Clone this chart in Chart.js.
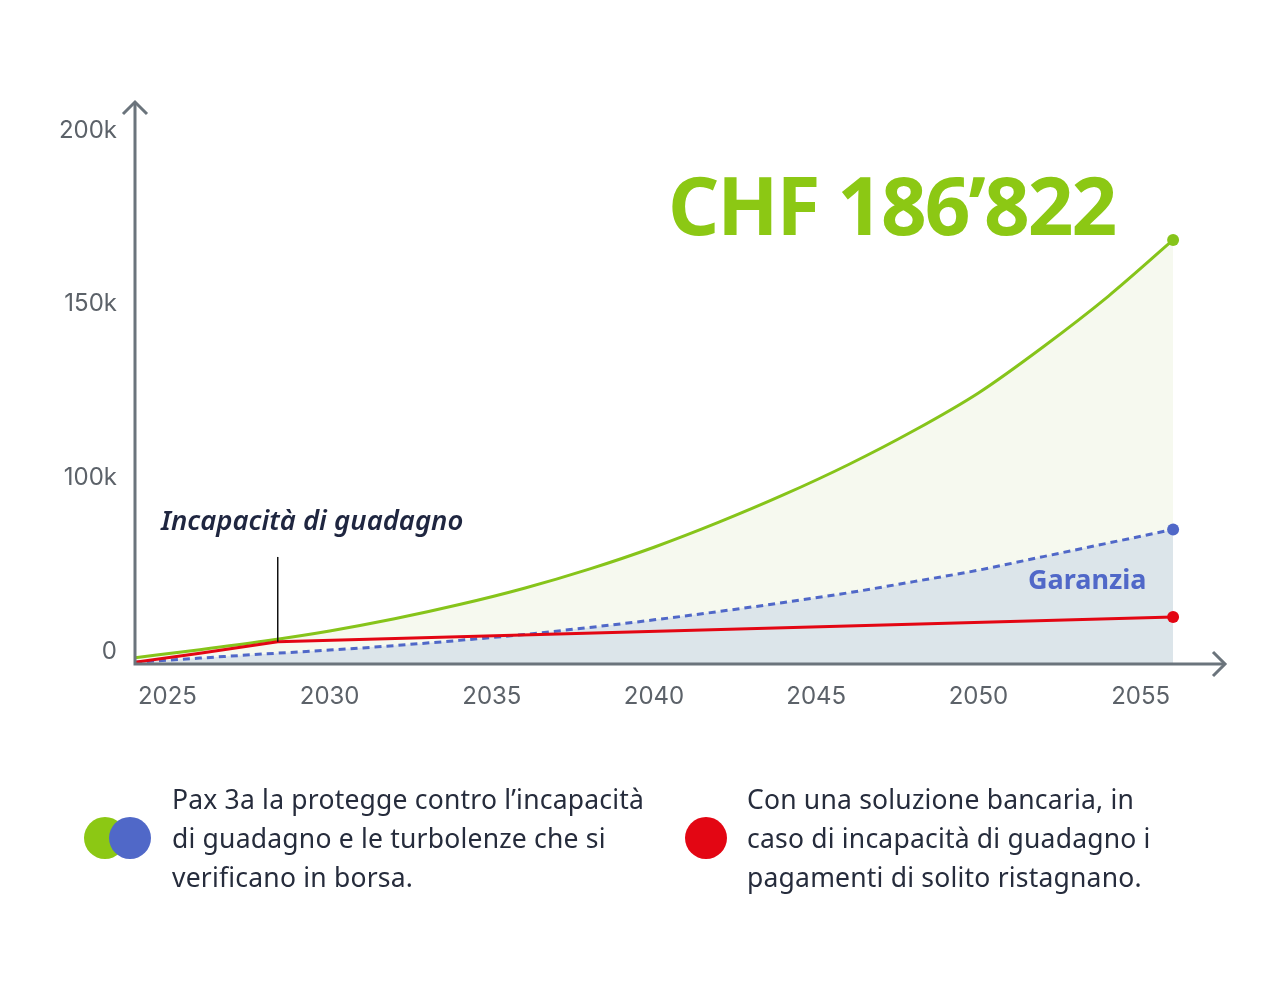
<!DOCTYPE html>
<html lang="it">
<head>
<meta charset="utf-8">
<script src="https://cdn.jsdelivr.net/npm/chart.js@4.4.1/dist/chart.umd.min.js"></script>
<style>
body{margin:0;background:#fff;font-family:"Noto Sans",sans-serif}
#wrap{position:relative;width:1280px;height:1005px;overflow:hidden}
#myChart{position:absolute;left:0;top:0}
.note{position:absolute;white-space:nowrap;line-height:1}
.title{left:668px;top:164px;font-size:80px;font-weight:700;color:#8cc814;letter-spacing:-2px}
.garanzia{left:1028px;top:565px;font-size:27px;font-weight:700;color:#5068c8}
.incap{left:161px;top:506px;font-size:27.5px;font-weight:600;font-style:italic;color:#1f2640}
.legtext{position:absolute;top:780px;font-size:26.5px;letter-spacing:0.2px;line-height:39px;color:#262c3c;white-space:nowrap}
.dot{position:absolute;width:42px;height:42px;border-radius:50%;top:817px}
</style>
</head>
<body>
<div id="wrap">
  <canvas id="myChart" width="1280" height="1005"></canvas>
  <div class="note title">CHF 186’822</div>
  <div class="note garanzia">Garanzia</div>
  <div class="note incap">Incapacità di guadagno</div>

  <div class="dot" style="left:84px;background:#8cc814"></div>
  <div class="dot" style="left:109px;background:#5068c8"></div>
  <div class="legtext" style="left:172px">Pax 3a la protegge contro l’incapacità<br>di guadagno e le turbolenze che si<br>verificano in borsa.</div>

  <div class="dot" style="left:685px;background:#e30613"></div>
  <div class="legtext" style="left:747px">Con una soluzione bancaria, in<br>caso di incapacità di guadagno i<br>pagamenti di solito ristagnano.</div>
</div>
<script>
// values in thousand CHF
let years = [2024, 2026, 2028, 2030, 2032, 2034, 2036, 2038, 2040, 2042, 2044, 2046, 2048, 2050, 2052, 2054, 2056]
let pax3a = [48.3, 50.6, 53.1, 56.0, 59.5, 63.6, 68.3, 73.8, 80.1, 87.3, 95.2, 103.9, 113.6, 124.5, 137.8, 152.3, 168.5]
let garanzia = [47.0, 48.2, 49.4, 50.5, 51.8, 53.3, 55.0, 57.0, 59.2, 61.6, 64.2, 67.0, 70.2, 73.5, 77.4, 81.3, 85.2]

let bankYears = [2024, 2026, 2028.4, 2056]
let bank = [47.0, 49.6, 52.9, 60.0]

let xTicks = [2025, 2030, 2035, 2040, 2045, 2050, 2055]
let yTicks = [50, 100, 150, 200]
let yTickLabels = ['0', '100k', '150k', '200k']

let incapacityYear = 2028.4
let incapacityTop = 77.3

const axisColor = '#6b747c'
const tickFont = {family: 'Inter', size: 24}

function pts(xs, ys){
    return xs.map((x, i) => ({x: x, y: ys[i]}))
}

function lastDot(ctx){
    return ctx.dataIndex === ctx.dataset.data.length - 1 ? 6 : 0
}

// axes with arrows + the "incapacità" marker
const axesPlugin = {
    id: 'axesArrows',
    afterDatasetsDraw(chart){
        const {ctx, chartArea: a, scales} = chart
        ctx.save()
        // marker line
        let mx = scales.x.getPixelForValue(incapacityYear)
        ctx.strokeStyle = '#111'
        ctx.lineWidth = 1.5
        ctx.beginPath()
        ctx.moveTo(mx, scales.y.getPixelForValue(incapacityTop))
        ctx.lineTo(mx, scales.y.getPixelForValue(bank[2]))
        ctx.stroke()

        ctx.strokeStyle = axisColor
        ctx.lineWidth = 3
        ctx.beginPath()
        ctx.moveTo(a.left, a.top)
        ctx.lineTo(a.left, a.bottom)
        ctx.lineTo(a.right, a.bottom)
        ctx.stroke()
        // arrow heads
        ctx.beginPath()
        ctx.moveTo(a.left - 12, a.top + 12)
        ctx.lineTo(a.left, a.top)
        ctx.lineTo(a.left + 12, a.top + 12)
        ctx.moveTo(a.right - 12, a.bottom - 12)
        ctx.lineTo(a.right, a.bottom)
        ctx.lineTo(a.right - 12, a.bottom + 12)
        ctx.stroke()
        ctx.restore()
    }
}

new Chart('myChart', {
    type: 'line',
    data: {
        datasets: [{
            data: pts(bankYears, bank),
            borderColor: '#e30613',
            borderWidth: 3,
            tension: 0,
            fill: false,
            pointRadius: lastDot,
            pointBackgroundColor: '#e30613',
            pointBorderWidth: 0
        }, {
            data: pts(years, garanzia),
            borderColor: '#5068c8',
            borderWidth: 3,
            borderDash: [7, 5],
            cubicInterpolationMode: 'monotone',
            fill: 'start',
            backgroundColor: '#dce5ea',
            pointRadius: lastDot,
            pointBackgroundColor: '#5068c8',
            pointBorderWidth: 0
        }, {
            data: pts(years, pax3a),
            borderColor: '#86c41a',
            borderWidth: 3,
            cubicInterpolationMode: 'monotone',
            fill: 'start',
            backgroundColor: '#f6f9ef',
            pointRadius: lastDot,
            pointBackgroundColor: '#86c41a',
            pointBorderWidth: 0
        }]
    },
    options: {
        responsive: false,
        animation: false,
        layout: {padding: {top: 102, right: 55, left: 0, bottom: 0}},
        plugins: {legend: {display: false}, tooltip: {enabled: false}},
        scales: {
            x: {
                type: 'linear',
                min: 2024,
                max: 2057.6,
                grid: {display: false, drawTicks: false},
                border: {display: false},
                afterBuildTicks: s => { s.ticks = xTicks.map(v => ({value: v})) },
                afterFit: s => { s.height = 341 },
                ticks: {font: tickFont, color: '#5c6269', padding: 18, callback: v => String(v)}
            },
            y: {
                min: 46.5,
                max: 208.2,
                grid: {display: false, drawTicks: false},
                border: {display: false},
                afterBuildTicks: s => { s.ticks = yTicks.map(v => ({value: v})) },
                afterFit: s => { s.width = 135 },
                ticks: {font: tickFont, color: '#5c6269', padding: 18, callback: (v, i) => yTickLabels[i]}
            }
        }
    },
    plugins: [axesPlugin]
})
</script>
</body>
</html>
